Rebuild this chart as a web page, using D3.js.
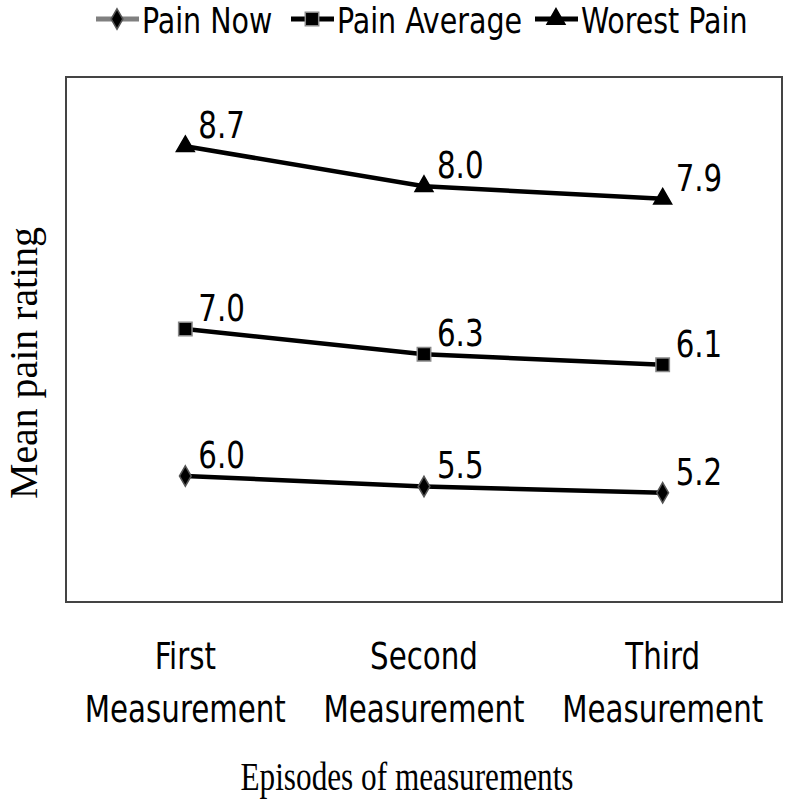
<!DOCTYPE html>
<html>
<head>
<meta charset="utf-8">
<script src="https://cdn.jsdelivr.net/npm/d3@7"></script>
<style>
	body { margin: 0; background: #fff; }
	svg { display: block; }
</style>
</head>
<body>
<svg id="chart" width="787" height="811"></svg>
<script>
	var categories = ["First Measurement", "Second Measurement", "Third Measurement"];
	var seriesNames = ["Pain Now", "Pain Average", "Worest Pain"];
	var painNow = [6.0, 5.5, 5.2];
	var painAverage = [7.0, 6.3, 6.1];
	var worestPain = [8.7, 8.0, 7.9];
	var yMax = 25;

	var narrow = "'Liberation Sans Narrow', 'DejaVu Sans Condensed', 'Arial Narrow', sans-serif";
	var serif = "'Liberation Serif', 'Times New Roman', serif";
	var squeeze = 0.88;

	var svg = d3.select("#chart");
	var box = {left: 66, right: 782, top: 77, bottom: 602};

	// squash a text horizontally round its anchor, to get a Calibri-like narrow face
	function narrowText(sel, ax)
	{
		sel.attr("transform", function(d, i)
		{
			var x0 = ax(d, i);
			return "translate(" + x0 + ",0) scale(" + squeeze + ",1) translate(" + (-x0) + ",0)";
		});
	}

	// stacked line chart: each series sits on top of the previous ones
	var rows = categories.map(function(c, i)
	{
		return {cat: c, "Pain Now": painNow[i], "Pain Average": painAverage[i], "Worest Pain": worestPain[i]};
	});
	var stacked = d3.stack().keys(seriesNames)(rows);

	var x = d3.scaleBand().domain(categories).range([box.left, box.right]);
	var y = d3.scaleLinear().domain([0, yMax]).range([box.bottom, box.top]);
	var cx = function(c) { return x(c) + x.bandwidth() / 2; };

	svg.append("rect")
		.attr("x", box.left)
		.attr("y", box.top)
		.attr("width", box.right - box.left)
		.attr("height", box.bottom - box.top)
		.attr("fill", "none")
		.attr("stroke", "#444")
		.attr("stroke-width", 2);

	var symbols = {
		"Pain Now": d3.symbol().type(d3.symbolDiamond).size(120),
		"Pain Average": d3.symbol().type(d3.symbolSquare).size(180),
		"Worest Pain": d3.symbol().type(d3.symbolTriangle).size(140)
	};
	var markerStroke = {"Pain Now": "#555", "Pain Average": "#888", "Worest Pain": "#000"};

	var line = d3.line()
		.x(function(d) { return cx(d.data.cat); })
		.y(function(d) { return y(d[1]); });

	var series = svg.selectAll("g.series").data(stacked).enter().append("g").classed("series", 1);

	series.append("path")
		.attr("d", function(d) { return line(d); })
		.attr("fill", "none")
		.attr("stroke", "#000")
		.attr("stroke-width", 4.5);

	series.each(function(s)
	{
		var g = d3.select(this);
		g.selectAll("path.mark").data(s).enter().append("path")
			.classed("mark", 1)
			.attr("d", symbols[s.key]())
			.attr("transform", function(d) { return "translate(" + cx(d.data.cat) + "," + y(d[1]) + ")"; })
			.attr("fill", "#000")
			.attr("stroke", markerStroke[s.key])
			.attr("stroke-width", 1.5);

		var vals = g.selectAll("text.val").data(s).enter().append("text")
			.classed("val", 1)
			.text(function(d) { return d.data[s.key].toFixed(1); })
			.attr("x", function(d) { return cx(d.data.cat) + 13; })
			.attr("y", function(d) { return y(d[1]) - 8; })
			.attr("font-family", narrow)
			.attr("font-size", "37px")
			.attr("fill", "#000");
		narrowText(vals, function(d) { return cx(d.data.cat) + 13; });
	});

	// category labels on two lines
	var catLabels = svg.selectAll("text.cat").data(categories).enter().append("text")
		.classed("cat", 1)
		.attr("text-anchor", "middle")
		.attr("font-family", narrow)
		.attr("font-size", "37px")
		.attr("fill", "#000");
	catLabels.append("tspan")
		.attr("x", function(d) { return cx(d); })
		.attr("y", 669)
		.text(function(d) { return d.split(" ")[0]; });
	catLabels.append("tspan")
		.attr("x", function(d) { return cx(d); })
		.attr("y", 722)
		.text(function(d) { return d.split(" ")[1]; });
	narrowText(catLabels, function(d) { return cx(d); });

	svg.append("text")
		.text("Episodes of measurements")
		.attr("x", 407)
		.attr("y", 790)
		.attr("text-anchor", "middle")
		.attr("font-family", serif)
		.attr("font-size", "40px")
		.attr("textLength", 333)
		.attr("lengthAdjust", "spacingAndGlyphs");

	svg.append("text")
		.text("Mean pain rating")
		.attr("transform", "translate(37,363) rotate(-90)")
		.attr("text-anchor", "middle")
		.attr("font-family", serif)
		.attr("font-size", "40px")
		.attr("textLength", 272)
		.attr("lengthAdjust", "spacingAndGlyphs");

	// legend
	var legendX = [96, 291, 535];
	var legendColor = {"Pain Now": "#808080", "Pain Average": "#000", "Worest Pain": "#000"};
	var legend = svg.selectAll("g.legend").data(seriesNames).enter().append("g")
		.classed("legend", 1)
		.attr("transform", function(d, i) { return "translate(" + legendX[i] + ",19)"; });
	legend.append("line")
		.attr("x1", 0).attr("x2", 43).attr("y1", 0).attr("y2", 0)
		.attr("stroke", function(d) { return legendColor[d]; })
		.attr("stroke-width", 5);
	legend.append("path")
		.attr("d", function(d) { return symbols[d](); })
		.attr("transform", "translate(21,0)")
		.attr("fill", "#000")
		.attr("stroke", function(d) { return markerStroke[d]; })
		.attr("stroke-width", 1.5);
	var legendText = legend.append("text")
		.text(function(d) { return d; })
		.attr("x", 46)
		.attr("y", 14)
		.attr("font-family", narrow)
		.attr("font-size", "36px")
		.attr("fill", "#000");
	narrowText(legendText, function() { return 46; });
</script>
</body>
</html>
